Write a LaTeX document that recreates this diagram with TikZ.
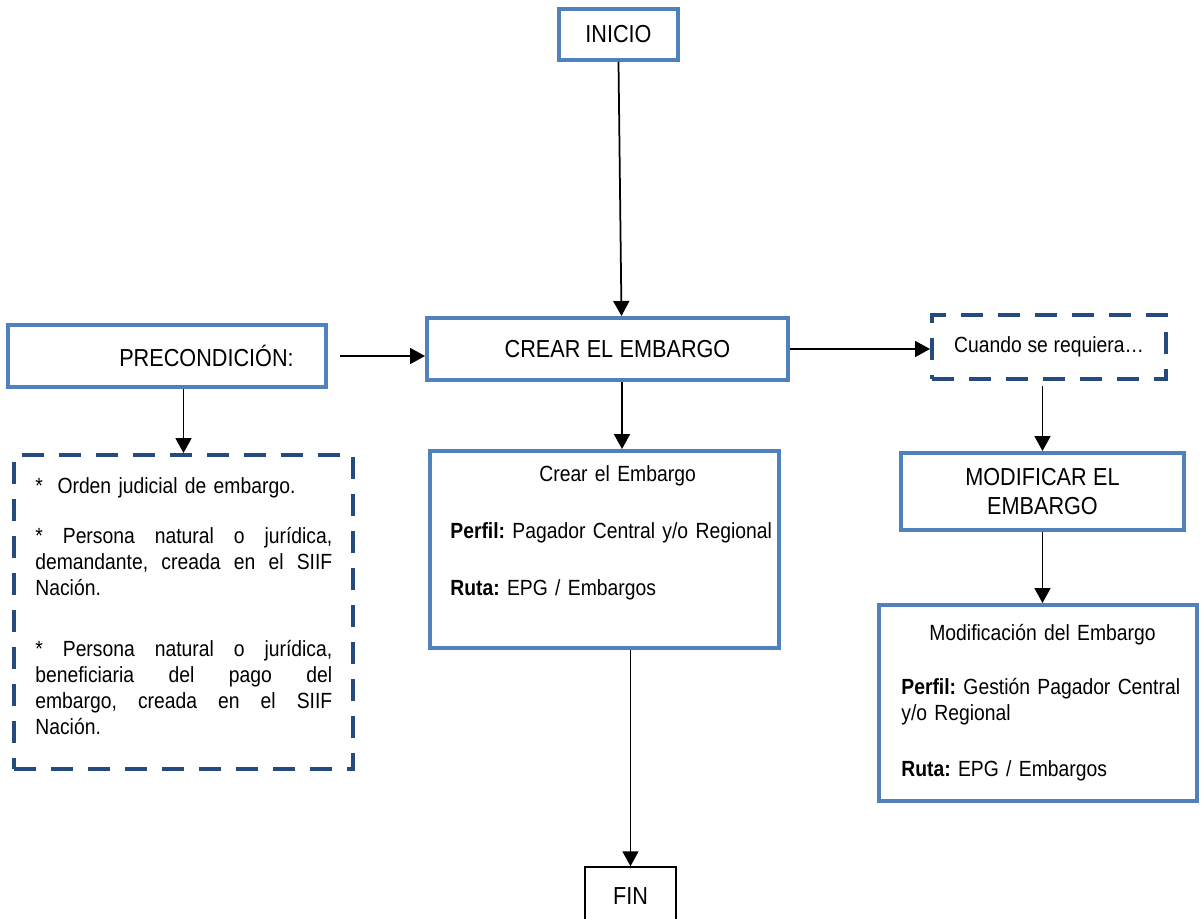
\documentclass[tikz,border=0pt]{standalone}
\usepackage{fontspec}
\setmainfont[FakeStretch=0.88]{Liberation Sans}
\frenchspacing
\usetikzlibrary{arrows.meta,positioning}
\definecolor{boxblue}{RGB}{79,129,189}
\definecolor{dashblue}{RGB}{38,74,125}
\newcommand{\bodyfont}{\fontsize{12.5}{14.8}\selectfont\spaceskip=0.26em plus 0.12em minus 0.05em\relax}
\newcommand{\headfont}{\fontsize{14}{16.5}\selectfont\spaceskip=0.26em plus 0.12em minus 0.05em\relax}
\newcommand{\jline}[1]{\leavevmode\hbox to 5.94cm{\spaceskip=0.2em plus 1fil\relax #1}}
\tikzset{mybox/.style={draw=boxblue,line width=0.08cm,fill=white,inner sep=0pt,align=center,font=\headfont},
mydashbox/.style={draw=dashblue,line width=0.08cm,dash pattern=on 0.44cm off 0.3cm,inner sep=0pt,align=center,font=\bodyfont},
myplainbox/.style={draw=black,line width=0.03cm,inner sep=0pt,font=\headfont},
mytext/.style={inner sep=0pt,align=left,font=\bodyfont},
myarrow/.style={line width=0.035cm,-{Triangle[length=0.3cm,width=0.32cm]}}}

\begin{document}
\begin{tikzpicture}[x=0.02cm,y=-0.02cm]
\useasboundingbox (0,0) rectangle (1201,919);
% boxes
\node[mybox,minimum width=2.38cm,minimum height=1.02cm] (inicio) at (618.5,34.5) {INICIO};
\node[mybox,minimum width=7.22cm,minimum height=1.24cm] (crear) at (607.5,349) {\hspace*{0.4cm}CREAR EL EMBARGO};
\node[mybox,minimum width=6.36cm,minimum height=1.24cm] (pre) at (167,356) {\hspace*{1.58cm}PRECONDICIÓN:};
\node[mydashbox,minimum width=4.68cm,minimum height=1.28cm] (cuando) at (1049,347) {Cuando se requiera…};
\node[mybox,minimum width=5.66cm,minimum height=1.54cm] (modif) at (1042.5,491.5) {MODIFICAR EL\\EMBARGO};
\node[mybox,minimum width=6.36cm,minimum height=3.92cm] (modifbox) at (1038,703) {};
\node[mydashbox,minimum width=6.78cm,minimum height=6.28cm] (condbox) at (183.5,612) {};
\node[mybox,minimum width=6.98cm,minimum height=3.94cm] (crearbox) at (604.5,549.5) {};
\node[myplainbox,minimum width=1.82cm,minimum height=1.16cm] (fin) at (630.5,896) {FIN};
% texts inside the boxes
\node[mytext,text width=5.94cm,below right=0.48cm and 0.46cm of condbox.north west] (condtext) {%
*\ \ Orden judicial de embargo.\\[0.48cm]
\jline{*\ Persona natural o jurídica,}\\
\jline{demandante, creada en el SIIF}\\
Nación.\\[0.7cm]
\jline{*\ Persona natural o jurídica,}\\
\jline{beneficiaria del pago del}\\
\jline{embargo, creada en el SIIF}\\
Nación.};
\node[mytext,text width=6.8cm,below right=0.32cm and 0.44cm of crearbox.north west] (creartext) {%
\hspace*{1.78cm}Crear el Embargo\\[0.62cm]
\textbf{Perfil:} Pagador Central y/o Regional\\[0.62cm]
\textbf{Ruta:} EPG / Embargos};
\node[mytext,text width=6.1cm,below right=0.42cm and 0.48cm of modifbox.north west] (modiftext) {%
\hspace*{0.56cm}Modificación del Embargo\\[0.55cm]
\textbf{Perfil:} Gestión Pagador Central\\
y/o Regional\\[0.6cm]
\textbf{Ruta:} EPG / Embargos};
% connectors
\draw[myarrow] (inicio.south) -- ([xshift=0.28cm]crear.north);
\draw[myarrow] ([xshift=0.24cm]pre.east) -- (pre.east -| crear.west);
\draw[myarrow] (crear.east) -- (crear.east -| cuando.west);
\draw[myarrow] ([yshift=-0.1cm]cuando.south -| modif.north) -- (modif.north);
\draw[myarrow] (modif.south) -- (modif.south |- modifbox.north);
\draw[myarrow] (pre.south -| condbox.north) -- (condbox.north);
\draw[myarrow] ([xshift=0.29cm]crear.south) -- ([xshift=0.29cm]crear.south |- crearbox.north);
\draw[myarrow] (crearbox.south -| fin.north) -- (fin.north);
\end{tikzpicture}
\end{document}
